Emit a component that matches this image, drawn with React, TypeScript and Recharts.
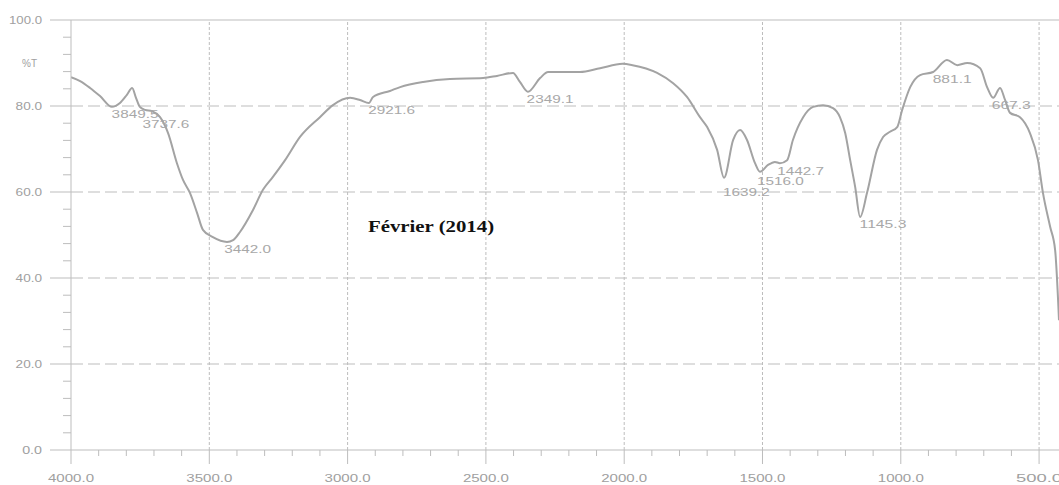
import { ComposedChart, Line, Scatter, XAxis, YAxis, ReferenceLine } from "recharts";

// FTIR spectrum (wavenumber cm-1, transmittance %)
const wavenumbers = [
  4000, 3967, 3931, 3895, 3852, 3823, 3798, 3779, 3765, 3751, 3732, 3707, 3678, 3649, 3617,
  3595, 3570, 3544, 3523, 3487, 3436, 3414, 3389, 3342, 3306, 3270, 3226, 3172, 3100, 3053,
  2991, 2955, 2923, 2908, 2847, 2810, 2727, 2630, 2510, 2460, 2402, 2377, 2348, 2304, 2275,
  2160, 2087, 2006, 1970, 1881, 1823, 1773, 1726, 1700, 1664, 1639, 1606, 1581, 1556, 1527,
  1509, 1480, 1455, 1437, 1411, 1390, 1353, 1317, 1281, 1245, 1220, 1201, 1183, 1165, 1147,
  1122, 1086, 1064, 1039, 1013, 995, 966, 930, 883, 833, 796, 760, 713, 688, 666,
  641, 623, 605, 569, 533, 504, 486, 460, 442, 428,
];
const transmittance = [
  86.7, 85.8, 84.2, 82.3, 79.8, 80.7, 82.6, 84.2, 81.9, 79.8, 79.1, 78.8, 77.4, 73.7, 66.7,
  62.8, 59.8, 55.1, 51.2, 49.5, 48.4, 48.8, 50.7, 55.8, 60.5, 63.5, 67.4, 72.8, 77.4, 80.2,
  81.9, 81.4, 80.7, 82.1, 83.5, 84.4, 85.6, 86.3, 86.5, 87.0, 87.7, 85.6, 83.3, 86.5, 87.9,
  87.9, 88.8, 89.8, 89.5, 87.7, 85.3, 82.1, 77.4, 75.1, 69.8, 63.3, 72.1, 74.4, 72.1, 66.7,
  64.7, 66.3, 67.0, 66.7, 67.4, 72.1, 77.4, 79.8, 80.2, 79.5, 77.4, 73.7, 67.4, 61.2, 54.2,
  59.8, 69.8, 72.8, 74.0, 75.1, 79.1, 84.4, 87.2, 87.9, 90.7, 89.5, 90.0, 88.8, 84.4, 81.9,
  84.2, 81.4, 78.4, 77.4, 73.7, 67.4, 59.8, 51.9, 46.5, 30.2,
];

// peak picks printed on the scan (label anchor = where the label sits)
const peakWavenumbers = [3849.5, 3737.6, 3442.0, 2921.6, 2349.1, 1639.2, 1516.0, 1442.7, 1145.3, 881.1, 667.3];
const peakTransmittance = [79.8, 77.4, 48.4, 80.7, 83.3, 61.7, 64.1, 66.6, 54.2, 87.9, 81.9];

const xMajorTicks = [4000, 3500, 3000, 2500, 2000, 1500, 1000, 500];
const yMajorTicks = [0, 20, 40, 60, 80, 100];
const yTitleTick = 90;

const spectrum = wavenumbers.map((wn, i) => ({ wn, t: transmittance[i] }));
const peaks = peakWavenumbers.map((wn, i) => ({ wn, t: peakTransmittance[i] }));

// minor ticks: 5 divisions between majors
const xTicks = xMajorTicks.flatMap((v, i) =>
  i === xMajorTicks.length - 1 ? [v] : [v, v - 100, v - 200, v - 300, v - 400]
);
const yTicks = [
  ...yMajorTicks.flatMap((v, i) => (i === yMajorTicks.length - 1 ? [v] : [v, v + 4, v + 8, v + 12, v + 16])),
  yTitleTick,
];

const AXIS = "#bdbdbd";
const TEXT = "#a0a0a0";
const FONT = "'Liberation Sans', Arial, sans-serif";

function XTick({ x, y, payload }: any) {
  const v = payload.value as number;
  const major = v % 500 === 0;
  return (
    <g>
      <line x1={x} x2={x} y1={y} y2={y + (major ? 14 : 6)} stroke={AXIS} />
      {major && (
        <text
          x={x}
          y={y + 32}
          textAnchor="middle"
          fontSize={10}
          fontFamily={FONT}
          fill={TEXT}
          textLength={46}
          lengthAdjust="spacingAndGlyphs"
        >
          {v.toFixed(1)}
        </text>
      )}
    </g>
  );
}

function YTick({ x, y, payload }: any) {
  const v = payload.value as number;
  if (v === yTitleTick) {
    return (
      <text x={x - 34} y={y + 3.5} textAnchor="end" fontSize={10} fontFamily={FONT} fill={TEXT}>
        %T
      </text>
    );
  }
  const major = v % 20 === 0;
  const label = v.toFixed(1);
  return (
    <g>
      <line x1={x - (major ? 21 : 8)} x2={x} y1={y} y2={y} stroke={AXIS} />
      {major && (
        <text
          x={x - 29}
          y={y + 3.5}
          textAnchor="end"
          fontSize={10}
          fontFamily={FONT}
          fill={TEXT}
          textLength={label.length * 6.6}
          lengthAdjust="spacingAndGlyphs"
        >
          {label}
        </text>
      )}
    </g>
  );
}

function PeakLabel({ cx, cy, payload }: any) {
  const label = (payload.wn as number).toFixed(1);
  return (
    <text
      x={cx - 1}
      y={cy + 11}
      fontSize={10}
      fontFamily={FONT}
      fill="#a8a8a8"
      textLength={label.length * 7.8}
      lengthAdjust="spacingAndGlyphs"
    >
      {label}
    </text>
  );
}

export default function App() {
  return (
    <div style={{ position: "absolute", left: 0, top: 0, width: 1059, height: 485, background: "#fff" }}>
      <ComposedChart width={1059} height={485} margin={{ top: 20, right: 0, bottom: 0, left: 0 }}>
        <XAxis
          type="number"
          dataKey="wn"
          domain={[428, 4000]}
          reversed
          allowDataOverflow
          ticks={xTicks}
          interval={0}
          tick={<XTick />}
          tickLine={false}
          tickSize={0}
          tickMargin={0}
          height={35}
          axisLine={{ stroke: AXIS }}
        />
        <YAxis
          type="number"
          domain={[0, 100]}
          allowDataOverflow
          ticks={yTicks}
          interval={0}
          tick={<YTick />}
          tickLine={false}
          tickSize={0}
          tickMargin={0}
          width={71}
          axisLine={{ stroke: AXIS }}
        />
        {xMajorTicks.slice(1).map((v) => (
          <ReferenceLine key={`vx${v}`} x={v} stroke={AXIS} strokeDasharray="3 2" />
        ))}
        {yMajorTicks.slice(1, -1).map((v) => (
          <ReferenceLine key={`hy${v}`} y={v} stroke={AXIS} strokeDasharray="12 5" />
        ))}
        <ReferenceLine y={100} stroke={AXIS} />
        <Line
          data={spectrum}
          dataKey="t"
          type="monotone"
          stroke="#a3a3a3"
          strokeWidth={2}
          dot={false}
          isAnimationActive={false}
        />
        <Scatter data={peaks} dataKey="t" shape={<PeakLabel />} isAnimationActive={false} />
      </ComposedChart>
      <div
        style={{
          position: "absolute",
          left: 368,
          top: 219,
          fontFamily: "'Liberation Serif', 'Times New Roman', serif",
          fontWeight: "bold",
          fontSize: 16,
          lineHeight: "16px",
          color: "#111",
          whiteSpace: "nowrap",
          transform: "scaleX(1.3)",
          transformOrigin: "left top",
        }}
      >
        Février (2014)
      </div>
    </div>
  );
}
